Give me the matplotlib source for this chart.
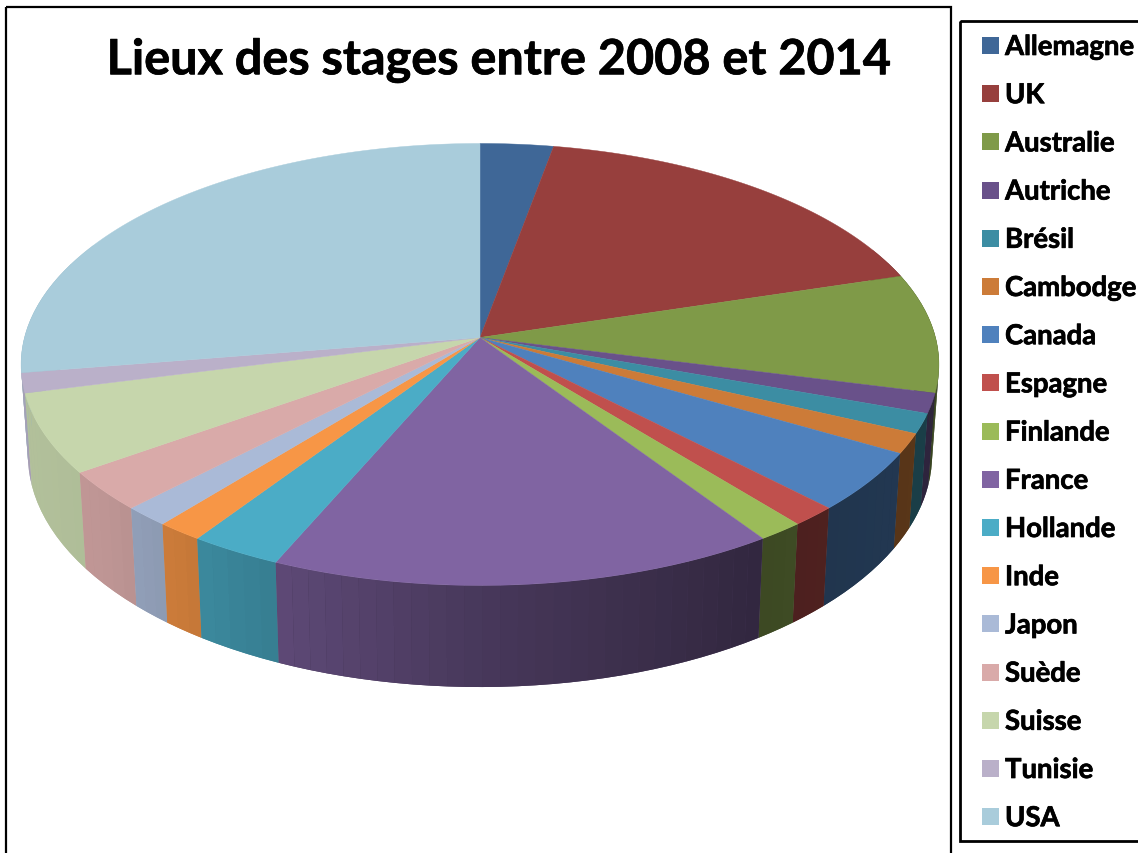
import numpy as np
from matplotlib import pyplot as plt
from matplotlib import patheffects
from matplotlib.colors import to_rgb
from matplotlib.patches import Polygon, Rectangle

plt.rcParams['font.family'] = ['Lato', 'DejaVu Sans']

title = "Lieux des stages entre 2008 et 2014"
countries = ["Allemagne", "UK", "Australie", "Autriche", "Brésil", "Cambodge", "Canada", "Espagne",
             "Finlande", "France", "Hollande", "Inde", "Japon", "Suède", "Suisse", "Tunisie", "USA"]
stages = [2, 12, 6, 1, 1, 1, 3, 1, 1, 11, 2, 1, 1, 2, 4, 1, 19]
colors = ["#3F6797", "#973F3D", "#7F9A48", "#69518A", "#3C8DA3", "#CC7B38", "#4F81BD", "#C0504D",
          "#9BBB59", "#8064A2", "#4BACC6", "#F79646", "#AABAD7", "#D9AAA9", "#C6D6AC", "#BAB0C9", "#A9CCDB"]

# perspective of the disc, in pixels of the picture
CX, CY = 480, 338.5
A, B, K = 217.7, 455.5, 0.122


def top_point(theta):
    w = 1 + K * np.cos(theta)
    return CX + B * np.sin(theta) / w, CY - A * np.cos(theta) / w


def bottom_point(theta):
    x, y = top_point(theta)
    return CX + 0.985 * (x - CX), y + 95 + 0.049 * (y - 452)


def side_shade(x):
    return np.interp(x, [20, 100, 240, 480, 760, 930], [0.9, 0.88, 0.76, 0.56, 0.39, 0.44])


fig = plt.figure(figsize=(11.38, 8.54), dpi=100)
ax = fig.add_axes([0, 0, 1, 1])
ax.set_xlim(0, 1138)
ax.set_ylim(854, 0)
ax.axis("off")

# chart and legend frames
ax.add_patch(Rectangle((6, 7.5), 945, 860, fill=False, edgecolor="black", linewidth=1.6))
ax.add_patch(Rectangle((960.5, 21.5), 200, 820.5, fill=False, edgecolor="black", linewidth=2))

edges = np.radians(np.cumsum([0] + stages) / sum(stages) * 360)

# side of the disc: a base per slice, then strips about 2 degrees wide so the shade follows x
bases = []
strips = []
for start, end, color in zip(edges[:-1], edges[1:], colors):
    n = max(int(round(np.degrees(end - start) / 2)), 1)
    t = np.linspace(start, end, n + 1)
    keep = t[np.cos(t) < 0.45]
    if len(keep) > 1:
        xt, yt = top_point(keep)
        xb, yb = bottom_point(keep)
        pts = list(zip(xt, yt)) + list(zip(xb[::-1], yb[::-1]))
        rgb = np.array(to_rgb(color)) * side_shade(xt.mean())
        bases.append((yt.mean(), pts, rgb))
    for t0, t1 in zip(t[:-1], t[1:]):
        if np.cos((t0 + t1) / 2) > 0.35:
            continue
        x0, y0 = top_point(t0)
        x1, y1 = top_point(t1)
        x2, y2 = bottom_point(t1)
        x3, y3 = bottom_point(t0)
        rgb = np.array(to_rgb(color)) * side_shade((x0 + x1) / 2)
        strips.append(((y0 + y1) / 2, [(x0, y0), (x1, y1), (x2, y2), (x3, y3)], rgb))
for _, pts, rgb in sorted(bases, key=lambda s: s[0]):
    ax.add_patch(Polygon(pts, closed=True, facecolor=rgb, edgecolor="none"))
for _, pts, rgb in sorted(strips, key=lambda s: s[0]):
    ax.add_patch(Polygon(pts, closed=True, facecolor=rgb, edgecolor="none"))

# top of the disc
for start, end, color in zip(edges[:-1], edges[1:], colors):
    t = np.linspace(start, end, 200)
    x, y = top_point(t)
    pts = [(CX, CY)] + list(zip(x, y))
    ax.add_patch(Polygon(pts, closed=True, facecolor=color, edgecolor=color, linewidth=0.3))

# Lato bold is a bit lighter than the original font, a thin stroke makes up for it
heavier = [patheffects.withStroke(linewidth=0.5, foreground="black")]

ax.text(499, 61, title, fontsize=35, fontweight="bold", ha="center", va="center", color="black",
        path_effects=heavier)

# legend
for i, (name, color) in enumerate(zip(countries, colors)):
    y = 46.5 + i * 48.2
    ax.add_patch(Rectangle((982, y - 8.5), 17, 17, facecolor=color, edgecolor="none"))
    ax.text(1005, y + 1.5, name, fontsize=19.8, fontweight="bold", ha="left", va="center", color="black",
            path_effects=heavier)

fig.savefig("out.png", dpi=100)
plt.close(fig)
